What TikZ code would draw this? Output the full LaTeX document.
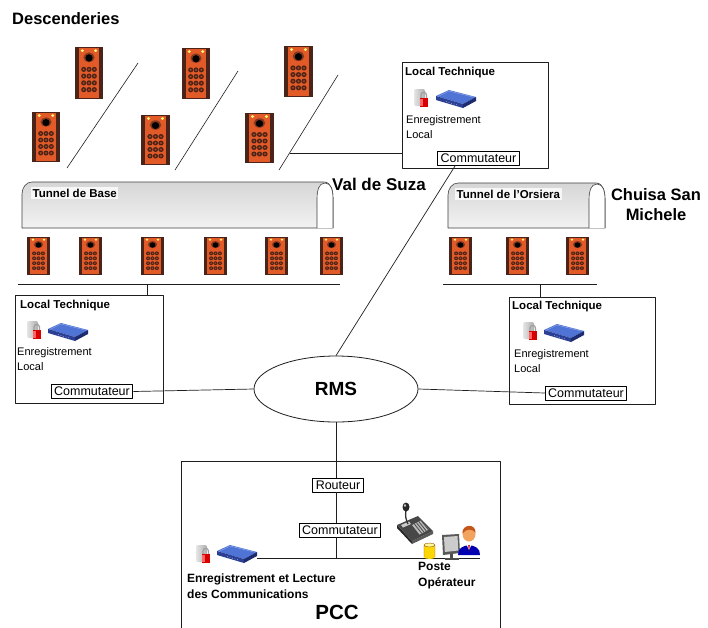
\documentclass[tikz,border=0pt]{standalone}
\usepackage{fontspec}
\setmainfont{Liberation Sans}
\usetikzlibrary{shapes.geometric,calc}

\definecolor{phoneor}{HTML}{E35A29}
\definecolor{phonedk}{HTML}{4A2418}
\definecolor{ink}{HTML}{1E1E1E}
\definecolor{swtop}{HTML}{4F74D6}
\definecolor{swfront}{HTML}{2B3F94}
\definecolor{swside}{HTML}{1D2C6E}
\definecolor{skin}{HTML}{F2A35E}
\definecolor{hair}{HTML}{C4561C}

\newcommand{\setfs}[2]{\fontsize{#1}{#2}\selectfont}

% tunnel body: x1 y1 x2 y2 (y grows downward)
\newcommand{\tunnelshape}[4]{%
  \shade[top color=gray!32, middle color=white, bottom color=gray!10,
         draw=gray!50!black, line width=0.6pt]
    (#1,#4) -- (#1,#2+12) to[out=90,in=180] (#1+10,#2) -- (#3-9,#2)
    to[out=0,in=90] (#3,#2+16) -- (#3,#4) -- cycle;
  \fill[white] (#3-16,#4) -- (#3-16,#2+16) to[out=90,in=180] (#3-8,#2+1)
    to[out=0,in=90] (#3,#2+16) -- (#3,#4) -- cycle;
  \draw[gray!50!black, line width=0.6pt]
    (#3-16,#4) -- (#3-16,#2+16) to[out=90,in=180] (#3-8,#2+1)
    to[out=0,in=90] (#3,#2+16) -- (#3,#4);
}

\tikzset{
  % emergency telephone cabinet, drawn in a unit box
  phonepic/.pic={
    \fill[phonedk] (0,0) rectangle (1,1);
    \fill[phoneor] (0.15,0.015) rectangle (0.85,0.985);
    \fill[phonedk!60!phoneor] (0.5,0.2) ellipse [x radius=0.2, y radius=0.095];
    \fill[black] (0.5,0.21) ellipse [x radius=0.13, y radius=0.07];
    \fill[yellow!55!white] (0.26,0.07) ellipse [x radius=0.06, y radius=0.03];
    \fill[yellow!55!white] (0.74,0.07) ellipse [x radius=0.06, y radius=0.03];
    \foreach \r in {0.43,0.56,0.69,0.82}
      \foreach \c in {0.31,0.5,0.69} {
        \fill[phonedk] (\c,\r) ellipse [x radius=0.09, y radius=0.05];
        \fill[phoneor!75!black] (\c,\r) ellipse [x radius=0.04, y radius=0.022];
      }
  },
  % recording server with red padlock
  recpic/.pic={
    \shade[left color=gray!20, right color=gray!65, rounded corners=2pt]
      (0,0) rectangle (11,17);
    \draw[gray!75, line width=1.2pt]
      (7,9) -- (7,6) .. controls (7,2.5) and (12.5,2.5) .. (12.5,6) -- (12.5,9);
    \fill[red!85!black] (5.5,9) rectangle (14,18);
    \fill[red!60] (6,9.5) rectangle (8.5,17);
  },
  % network switch
  switchpic/.pic={
    \fill[swtop] (0,6) -- (13,0) -- (40,7) -- (27,14) -- cycle;
    \fill[swfront] (0,6) -- (27,14) -- (27,18) -- (0,10) -- cycle;
    \fill[swside] (27,14) -- (40,7) -- (40,11) -- (27,18) -- cycle;
    \draw[swtop!60!white, line width=0.4pt] (2,6.5) -- (13,1) -- (38,7.2);
    \foreach \k in {1,...,5} \fill[white!80!swfront] (8+2.5*\k,11+0.75*\k) circle (0.45);
  },
  % operator desk console with gooseneck microphone
  consolepic/.pic={
    \fill[black!85] (0,24) -- (15,40) -- (15,43) -- (0,27) -- cycle;
    \fill[black!65] (15,40) -- (36,30) -- (36,33) -- (15,43) -- cycle;
    \fill[black!72] (0,24) -- (21,15) -- (36,30) -- (15,40) -- cycle;
    \fill[gray!55] (15,24) -- (24,19.5) -- (32,28.5) -- (22.5,33.5) -- cycle;
    \foreach \k in {0,...,3}
      \draw[black!70, line width=0.8pt] (17.3+2.3*\k,22.9-1.1*\k) -- (24.8+2.3*\k,32.4-1.1*\k);
    \fill[gray!40] (4,24) -- (12,20.5) -- (14,23) -- (6,26.5) -- cycle;
    \draw[black!80, line width=1.3pt] (9,9) .. controls (8,15) and (9,19) .. (11,23);
    \fill[black!85] (9,6) ellipse [x radius=3.5, y radius=4.5];
    \fill[gray!50] (8,4.5) ellipse [x radius=1.2, y radius=1.6];
  },
  % small yellow database drum
  drumpic/.pic={
    \fill[yellow!75!orange] (0,2) rectangle (11,14);
    \fill[yellow!75!orange] (5.5,14) ellipse [x radius=5.5, y radius=2];
    \fill[yellow!40] (5.5,2) ellipse [x radius=5.5, y radius=2];
    \draw[orange!60!black, line width=0.4pt] (0,2) -- (0,14) (11,2) -- (11,14)
      (5.5,2) ellipse [x radius=5.5, y radius=2];
  },
  % workstation screen
  screenpic/.pic={
    \fill[gray!70!black] (0,1) -- (17,0) -- (18,19) -- (1,21) -- cycle;
    \fill[gray!40] (2,3) -- (15.5,2) -- (16.3,16.5) -- (2.8,18) -- cycle;
    \fill[gray!60!black] (8,20) rectangle (11,24);
    \fill[gray!60!black] (3,24) rectangle (17,26);
  },
  % operator
  personpic/.pic={
    \fill[blue!70!black] (1,34) .. controls (0,21) and (24,21) .. (23,34) -- cycle;
    \fill[white] (9,22.5) -- (15,22.5) -- (12,29) -- cycle;
    \fill[red!80!black] (11.2,24) -- (12.8,24) -- (12,31) -- cycle;
    \fill[skin] (12,13) ellipse [x radius=6.5, y radius=7.5];
    \fill[hair] (5.5,12.5) .. controls (4.5,3) and (19,2) .. (18.5,11.5)
      .. controls (15,7.5) and (9,7.5) .. (5.5,12.5) -- cycle;
  },
  panel/.style={draw=ink, line width=0.8pt, anchor=north west, inner sep=0pt},
  switchbox/.style={draw=black, line width=0.8pt, inner xsep=3pt, inner ysep=1pt,
    minimum height=14pt, font=\setfs{12.5}{14}},
  title/.style={font=\setfs{11.5}{14}\bfseries, anchor=west, inner sep=0pt},
  place/.style={font=\setfs{17}{20}\bfseries, inner sep=0pt},
  smalltext/.style={font=\setfs{11}{15.5}, align=left, anchor=north west, inner sep=0pt},
  link/.style={draw=ink, line width=0.7pt},
}

\begin{document}
\begin{tikzpicture}[x=1pt,y=-1pt,line join=round]
\useasboundingbox (0,0) rectangle (708,627);
\clip (0,0) rectangle (708,627);
\fill[white] (0,0) rectangle (708,627);

% ---- Descenderies -------------------------------------------------
\node[place, anchor=west, font=\setfs{16.5}{20}\bfseries] (desc) at (12,19) {Descenderies};

\pic[xscale=28,yscale=52] at (75,47) {phonepic};
\pic[xscale=28,yscale=51] at (182,48) {phonepic};
\pic[xscale=29,yscale=51] at (284,46) {phonepic};
\pic[xscale=28,yscale=50] at (32,112) {phonepic};
\pic[xscale=29,yscale=50] at (141,115) {phonepic};
\pic[xscale=29,yscale=50] at (245,113) {phonepic};

\coordinate (dA1) at (138,63);  \coordinate (dA2) at (67,168);
\coordinate (dB1) at (238,71);  \coordinate (dB2) at (175,170);
\coordinate (dC1) at (338,75);  \coordinate (dC2) at (279,170);
\draw[link, line width=0.6pt] (dA1) -- (dA2);
\draw[link, line width=0.6pt] (dB1) -- (dB2);
\draw[link, line width=0.6pt] (dC1) -- (dC2);
\coordinate (dtap) at ($(dC1)!0.82!(dC2)$);

% ---- Local Technique, Val de Suza ----------------------------------
\node[panel, minimum width=146pt, minimum height=106pt] (ltT) at (402,62) {};
\node[title] (ltTt) at (405,73) {Local Technique};
\pic at (414,89) {recpic};
\pic at (436,90) {switchpic};
\node[smalltext] (ltTe) at (406,115) {Enregistrement\\Local};
\node[switchbox] (comT) at (478.5,158) {Commutateur};
\draw[link] (dtap) -- (dtap -| ltT.west);

\node[place, anchor=west] (valsuza) at (332,184) {Val de Suza};

% ---- Tunnel de Base -------------------------------------------------
\tunnelshape{22}{182}{333}{228}
\node[title, fill=white!94!gray, inner sep=1.5pt] (tbase) at (31,193) {Tunnel de Base};
\foreach \px in {27,79,141,204,265,320}
  \pic[xscale=23,yscale=38] at (\px,237) {phonepic};
\coordinate (busL1) at (18,284);
\coordinate (busL2) at (340,284);
\coordinate (tapL) at (147,284);
\draw[link] (busL1) -- (busL2);

\node[panel, minimum width=148pt, minimum height=108pt] (ltL) at (15,295) {};
\node[title] (ltLt) at (20,306) {Local Technique};
\pic at (27,321) {recpic};
\pic at (48,323) {switchpic};
\node[smalltext] (ltLe) at (17,347) {Enregistrement\\Local};
\node[switchbox] (comL) at (92,391.5) {Commutateur};
\draw[link] (tapL) -- (tapL |- ltL.north);

% ---- Tunnel de l'Orsiera ------------------------------------------
\tunnelshape{448}{183}{605}{228}
\node[title, fill=white!94!gray, inner sep=1.5pt] (torsiera) at (455,194) {Tunnel de l'Orsiera};
\foreach \px in {449,506,566}
  \pic[xscale=23,yscale=38] at (\px,237) {phonepic};
\node[place, align=center, font=\setfs{16.5}{20}\bfseries] (chuisa) at (656,205) {Chuisa San\\Michele};
\coordinate (busR1) at (443,284);
\coordinate (busR2) at (597,284);
\coordinate (tapR) at (540,284);
\draw[link] (busR1) -- (busR2);

\node[panel, minimum width=146pt, minimum height=107pt] (ltR) at (509,297) {};
\node[title] (ltRt) at (512,307) {Local Technique};
\pic at (523,322) {recpic};
\pic at (544,324) {switchpic};
\node[smalltext] (ltRe) at (514,349) {Enregistrement\\Local};
\node[switchbox] (comR) at (586,393) {Commutateur};
\draw[link] (tapR) -- (tapR |- ltR.north);

% ---- RMS --------------------------------------------------------------
\node[ellipse, draw=ink, line width=0.8pt, minimum width=164pt, minimum height=66pt,
      font=\setfs{19}{22}\bfseries] (rms) at (336,389) {RMS};
\draw[link] ($(comT.south west)!0.22!(comT.south east)$) -- (rms.north);
\draw[link] (comL.east) -- (rms.west);
\draw[link] (rms.east) -- (comR.west);

% ---- PCC --------------------------------------------------------------
\node[panel, minimum width=319pt, minimum height=180pt] (pcc) at (181,461) {};
\node[switchbox] (rout) at (338,485) {Routeur};
\node[switchbox] (comP) at (340,530) {Commutateur};
\coordinate (lanL) at (257,558);
\coordinate (lanR) at (480,558);
\draw[link] (rms.south) -- (rms.south |- rout.north);
\draw[link] (rms.south |- rout.south) -- (rms.south |- comP.north);
\draw[link] (rms.south |- comP.south) -- (rms.south |- lanL);

\pic at (196,545) {recpic};
\pic at (217,545) {switchpic};
\draw[link] (lanL) -- (lanR);
\pic at (397,501) {consolepic};
\pic at (442,534) {screenpic};
\pic at (457,521) {personpic};
\pic at (424,543) {drumpic};

\node[smalltext, font=\setfs{12}{16}\bfseries] (recpcc) at (187,574) {Enregistrement et Lecture\\des Communications};
\node[smalltext, font=\setfs{12}{16}\bfseries] (poste) at (418,562) {Poste\\Opérateur};
\node[place, font=\setfs{20.5}{24}\bfseries] (pcct) at (337,612) {PCC};
\end{tikzpicture}
\end{document}
